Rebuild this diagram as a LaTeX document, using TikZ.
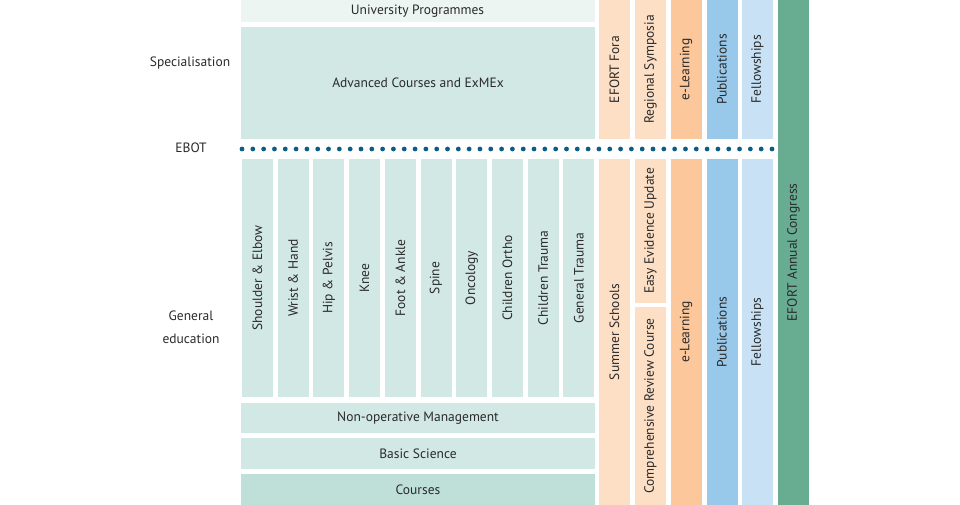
\documentclass[tikz,border=0pt]{standalone}
\usepackage{fontspec}
\setmainfont{PT Sans}
\definecolor{txt}{HTML}{2A2A2A}
\definecolor{univc}{HTML}{EDF5F3}
\definecolor{tealL}{HTML}{D2E8E4}
\definecolor{tealM}{HTML}{BFE0D9}
\definecolor{peach}{HTML}{FDDFC6}
\definecolor{orng}{HTML}{FBC79B}
\definecolor{blueM}{HTML}{98C8EA}
\definecolor{blueL}{HTML}{C9E1F4}
\definecolor{grn}{HTML}{68AD92}
\definecolor{dotc}{HTML}{0B5C86}
\begin{document}
\begin{tikzpicture}[x=1pt,y=-1pt,
  box/.style={draw=none,inner sep=0pt,outer sep=0pt,text=txt,font=\fontsize{13.5}{16}\selectfont},
  hbox/.style={box,minimum width=354pt},
  vbox/.style={box,rotate=90,minimum height=31pt},
  side/.style={text=txt,font=\fontsize{13.5}{23}\selectfont,align=center}]
\useasboundingbox (0,0) rectangle (960,505);
% top left block
\node[hbox,fill=univc,minimum height=22pt] (univ) at (417.5,11) {University Programmes};
\node[hbox,fill=tealL,minimum height=112pt] (adv) at (418,83) {Advanced Courses and ExMEx};
% specialty columns
\foreach \i/\t in {0/Shoulder \& Elbow,1/Wrist \& Hand,2/Hip \& Pelvis,3/Knee,4/Foot \& Ankle,5/Spine,6/Oncology,7/Children Ortho,8/Children Trauma,9/General Trauma}{
  \node[vbox,fill=tealL,minimum width=238pt] (col\i) at ({257.5+35.7*\i},278) {\t};
}
\node[hbox,fill=tealL,minimum height=30pt] (nonop) at (418,418) {Non-operative Management};
\node[hbox,fill=tealL,minimum height=31pt] (basic) at (418,453.5) {Basic Science};
\node[hbox,fill=tealM,minimum height=31pt] (courses) at (418,489.5) {Courses};
% right columns, upper
\node[vbox,fill=peach,minimum width=139pt] (fora) at (614.5,69.5) {EFORT Fora};
\node[vbox,fill=peach,minimum width=139pt] (regio) at (650.5,69.5) {Regional Symposia};
\node[vbox,fill=orng,minimum width=139pt] (elearnU) at (686,69.5) {e-Learning};
\node[vbox,fill=blueM,minimum width=139pt] (pubU) at (722,69.5) {Publications};
\node[vbox,fill=blueL,minimum width=139pt] (fellU) at (757.5,69.5) {Fellowships};
% right columns, lower
\node[vbox,fill=peach,minimum width=346pt] (summer) at (614.5,332) {Summer Schools};
\node[vbox,fill=peach,minimum width=144pt] (easy) at (650.5,231) {Easy Evidence Update};
\node[vbox,fill=peach,minimum width=198pt] (compr) at (650.5,406) {Comprehensive Review Course};
\node[vbox,fill=orng,minimum width=346pt] (elearnL) at (686,332) {e-Learning};
\node[vbox,fill=blueM,minimum width=346pt] (pubL) at (722,332) {Publications};
\node[vbox,fill=blueL,minimum width=346pt] (fellL) at (757.5,332) {Fellowships};
% congress
\node[vbox,fill=grn,minimum width=505pt] (congress) at (793.5,252.5) {EFORT Annual Congress};
% EBOT dotted line
\foreach \k in {0,...,49}{
  \fill[dotc] ({242+10.816*\k},149) circle (2.4pt);
}
% side labels
\node[side] (spec) at (190,63) {Specialisation};
\node[side] (ebot) at (191,148) {EBOT};
\node[side] (gened) at (191,327) {General\\education};
\end{tikzpicture}
\end{document}
